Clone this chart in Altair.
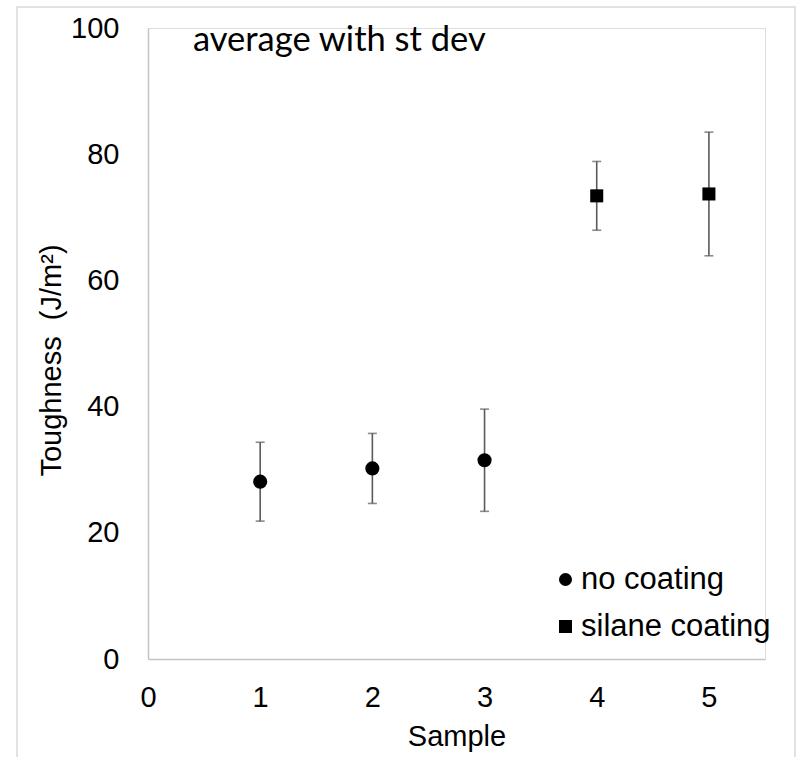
import altair as alt
import pandas as pd

samples = [1, 2, 3, 4, 5]
means = [28.1, 30.2, 31.5, 73.4, 73.7]
sds = [6.25, 5.55, 8.1, 5.45, 9.8]
coating = ["no coating", "no coating", "no coating", "silane coating", "silane coating"]
x_ticks = [0, 1, 2, 3, 4, 5]
y_ticks = [0, 20, 40, 60, 80, 100]
title_text = "average with st dev"
categories = ["no coating", "silane coating"]

df = pd.DataFrame({"sample": samples, "mean": means, "sd": sds, "coating": coating})
df["lo"] = df["mean"] - df["sd"]
df["hi"] = df["mean"] + df["sd"]

FONT = "Liberation Sans"

xs = alt.Scale(domain=[0, 5.5], nice=False, zero=False)
ys = alt.Scale(domain=[0, 100], nice=False)

x_axis = alt.Axis(values=x_ticks, format="d", title="Sample", grid=False, ticks=False, tickSize=0,
                  labelFontSize=29, labelFont=FONT, labelColor="black", labelPadding=24,
                  titleFontSize=29, titleFont=FONT, titleFontWeight="normal", titleColor="black",
                  titlePadding=10, domainColor="#c4c4c4", domainWidth=1.5, labelFlush=False)
y_axis = alt.Axis(values=y_ticks, format="d", title="Toughness\u00a0\u00a0(J/m²)", grid=False, ticks=False,
                  tickSize=0, labelFontSize=29, labelFont=FONT, labelColor="black", labelPadding=29,
                  titleFontSize=29, titleFont=FONT, titleFontWeight="normal", titleColor="black",
                  titlePadding=4, titleY=332, domainColor="#c4c4c4", domainWidth=1.5, labelFlush=False)

base = alt.Chart(df)

frame = base.mark_rect(fill=None, stroke="#d9d9d9", strokeWidth=1.5).encode(
    x=alt.value(-131), x2=alt.value(647), y=alt.value(-21), y2=alt.value(740)
).transform_filter(alt.datum.sample == 1)

bars = base.mark_rule(color="#5a5a5a", strokeWidth=1.6).encode(
    x=alt.X("sample:Q", scale=xs, axis=x_axis),
    y=alt.Y("lo:Q", scale=ys, axis=y_axis),
    y2="hi:Q",
)
caps_lo = base.mark_tick(color="#5a5a5a", orient="horizontal", size=9, thickness=1.6).encode(
    x=alt.X("sample:Q", scale=xs), y=alt.Y("lo:Q", scale=ys)
)
caps_hi = base.mark_tick(color="#5a5a5a", orient="horizontal", size=9, thickness=1.6).encode(
    x=alt.X("sample:Q", scale=xs), y=alt.Y("hi:Q", scale=ys)
)

shape_enc = alt.Shape(
    "coating:N",
    scale=alt.Scale(domain=categories, range=["circle", "square"]),
    legend=alt.Legend(title=None, orient="none", legendX=402, legendY=536,
                      labelFontSize=31, labelFont=FONT, labelColor="black", labelLimit=0,
                      symbolSize=170, symbolFillColor="black", symbolStrokeColor="black",
                      symbolStrokeWidth=0, symbolOpacity=1,
                      labelOffset=0, rowPadding=15),
)

circles = base.mark_point(filled=True, opacity=1, color="black", size=200).encode(
    x=alt.X("sample:Q", scale=xs),
    y=alt.Y("mean:Q", scale=ys),
    shape=shape_enc,
).transform_filter(alt.datum.coating == "no coating")

squares = base.mark_point(filled=True, opacity=1, color="black", size=170).encode(
    x=alt.X("sample:Q", scale=xs),
    y=alt.Y("mean:Q", scale=ys),
    shape=shape_enc,
).transform_filter(alt.datum.coating == "silane coating")

title = base.mark_text(align="left", baseline="middle", font="Lato", fontSize=34.5,
                       color="black").encode(
    x=alt.value(45), y=alt.value(13), text=alt.value(title_text)
).transform_filter(alt.datum.sample == 1)

chart = alt.layer(frame, bars, caps_lo, caps_hi, circles, squares, title).properties(
    width=617, height=631,
    padding={"left": 148, "top": 28, "right": 34, "bottom": 98},
    autosize=alt.AutoSizeParams(type="none"),
).configure_view(stroke=None).configure(background="white")

chart.save("out.html", embed_options={"renderer": "svg", "actions": False})
